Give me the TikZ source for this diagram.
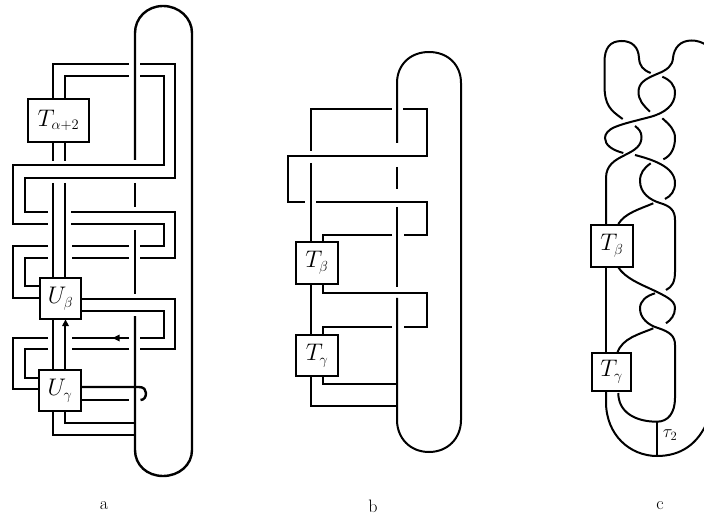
\RequirePackage{fix-cm}
\documentclass[tikz,border=0pt]{standalone}
\DeclareMathSizes{24}{24}{14.5}{11}
\begin{document}
\begin{tikzpicture}[x=1pt,y=-1pt,
  strand/.style={draw=black,line width=2.4pt,line join=miter,line cap=butt},
  thin strand/.style={draw=black,line width=2pt,line join=miter,line cap=butt},
  knot/.style={draw=black,line width=2pt,line cap=butt},
  tbox/.style={draw=black,fill=white,line width=1.5pt,inner sep=0pt,font=\fontsize{24}{26}\selectfont},
  caption/.style={font=\fontsize{18}{20}\selectfont,inner sep=0pt}]
\useasboundingbox (0,0) rectangle (704,521);
\clip (0,0) rectangle (704,521);
% ---------- panel a ----------
\path[strand] (135,160) -- (135,33) .. controls (135,18) and (147,6) .. (163,6)
  .. controls (179,6) and (192,18) .. (192,33) -- (192,450)
  .. controls (192,465) and (179,476) .. (163,476)
  .. controls (147,476) and (135,465) .. (135,450) -- (135,316);
\path[strand] (135,183) -- (135,207);
\path[strand] (135,230) -- (135,294);
% outer strand
\path[strand] (53,100) -- (53,64) -- (129,64);
\path[strand] (140,64) -- (175,64) -- (175,178) -- (25,178) -- (25,212) -- (48,212);
\path[strand] (71,212) -- (175,212) -- (175,258) -- (140,258);
\path[strand] (129,258) -- (72,258);
\path[strand] (48,258) -- (25,258) -- (25,286) -- (41,286);
% inner strand
\path[strand] (65,100) -- (65,76) -- (129,76);
\path[strand] (140,76) -- (164,76) -- (164,165) -- (13,165) -- (13,224) -- (48,224);
\path[strand] (71,224) -- (164,224) -- (164,246) -- (140,246);
\path[strand] (129,246) -- (72,246);
\path[strand] (48,246) -- (13,246) -- (13,298) -- (41,298);
% verticals
\path[strand] (53,141) -- (53,161);
\path[strand] (65,141) -- (65,161);
\path[strand] (53,183) -- (53,279);
\path[strand] (65,183) -- (65,279);
\path[strand] (53,318) -- (53,371);
\path[strand] (65,324) -- (65,371);
\fill (65.5,319.5) -- (62,326) -- (69,326) -- cycle;
% U_beta right
\path[strand] (80,299) -- (175,299) -- (175,349) -- (140,349);
\path[strand] (129,349) -- (72,349);
\path[strand] (48,349) -- (25,349) -- (25,378) -- (40,378);
\path[strand] (80,311) -- (164,311) -- (164,338) -- (140,338);
\path[strand] (129,338) -- (72,338);
\fill (112.5,338) -- (119.5,334.5) -- (119.5,341.5) -- cycle;
\path[strand] (48,338) -- (13,338) -- (13,389) -- (40,389);
% U_gamma right
\path[strand] (80,387) -- (139,387) .. controls (144,387) and (146,390) .. (146,393)
  .. controls (146,397) and (144,400) .. (140.5,400);
\path[strand] (80,400) -- (129,400);
\path[strand] (65,410) -- (65,423) -- (135,423);
\path[strand] (53,410) -- (53,435) -- (135,435);
\node[tbox,minimum width=61pt,minimum height=43pt] (Ta) at (58.5,120.5) {$T_{\alpha+2}$};
\node[tbox,minimum width=41pt,minimum height=41pt] (Ub) at (60.5,298.5) {$U_\beta$};
\node[tbox,minimum width=42pt,minimum height=41pt] (Ug) at (60,390.5) {$U_\gamma$};
\node[caption] (la) at (104,506) {a};
% ---------- panel b ----------
\path[thin strand] (397,143) -- (397,83) .. controls (397,65) and (410,52) .. (429,52)
  .. controls (448,52) and (461,65) .. (461,83) -- (461,420)
  .. controls (461,438) and (448,452) .. (429,452)
  .. controls (410,452) and (397,438) .. (397,420) -- (397,298);
\path[thin strand] (397,167) -- (397,189);
\path[thin strand] (397,207) -- (397,287);
\path[thin strand] (311,151) -- (311,109) -- (392,109);
\path[thin strand] (403,109) -- (427,109) -- (427,156) -- (288,156) -- (288,202) -- (305,202);
\path[thin strand] (316,202) -- (427,202) -- (427,235) -- (404,235);
\path[thin strand] (392,235) -- (323,235) -- (323,243);
\path[thin strand] (311,163) -- (311,243);
\path[thin strand] (311,284) -- (311,336);
\path[thin strand] (323,284) -- (323,293) -- (427,293) -- (427,327) -- (404,327);
\path[thin strand] (392,327) -- (323,327) -- (323,336);
\path[thin strand] (323,375) -- (323,384) -- (397,384);
\path[thin strand] (311,375) -- (311,406) -- (397,406);
\node[tbox,minimum width=42pt,minimum height=42pt] (Tb) at (317,263) {$T_\beta$};
\node[tbox,minimum width=42pt,minimum height=41pt] (Tg) at (317,355.5) {$T_\gamma$};
\node[caption] (lb) at (373,506) {b};
% ---------- panel c ----------
\path[knot] (606,226) -- (606,178) .. controls (606,165) and (615,160) .. (625,155) .. controls (635,150) and (641.5,146) .. (641.5,137) .. controls (641.5,132) and (639,129) .. (635,126);
\path[knot] (622.7,119) .. controls (610,110) and (604.5,105) .. (604.5,85) -- (604.5,62) .. controls (604.5,48) and (610,41) .. (621.7,41) .. controls (632,41) and (638.5,47) .. (639,58) .. controls (639.5,66) and (643,70) .. (650.7,73);
\path[knot] (708,46) .. controls (702,42) and (697,40.5) .. (691.7,40.5) .. controls (680,40.5) and (674,48) .. (673,58) .. controls (672.5,66) and (667,70) .. (657,74) .. controls (645,79) and (638.5,83) .. (638.5,92) .. controls (638.5,100) and (643,105) .. (650,111.7);
\path[knot] (662.3,76.7) .. controls (670,80) and (675,85) .. (675,93) .. controls (675,105) and (665,113) .. (650,117) .. controls (635,121) and (625,123) .. (615,127) .. controls (608,130) and (605,134) .. (605,138) .. controls (605,145) and (612,150) .. (623.3,153);
\path[knot] (662.3,118.3) .. controls (670,125) and (675,130) .. (675,138) .. controls (675,148) and (671,156) .. (663.3,159.3);
\path[knot] (635,155) .. controls (650,159) and (675,166) .. (675,183) .. controls (675,191) and (671,196) .. (665,199);
\path[knot] (650.7,163.3) .. controls (644,168) and (640,173) .. (640,181) .. controls (640,193) and (650,200) .. (660,203) .. controls (670,206) and (675,210) .. (675,220) -- (675,272) .. controls (675,282) and (672,287) .. (666,290);
\path[knot] (653.3,203.3) .. controls (640,209) and (625,213) .. (618.3,224);
\path[knot] (618.3,267.3) .. controls (625,278) and (640,284) .. (653,290) .. controls (665,296) and (675,300) .. (675,308) .. controls (675,315) and (671,320) .. (666,323.3);
\path[knot] (655,293.3) .. controls (646,296) and (640,301) .. (640,308.5) .. controls (640,318) and (648,325) .. (658,328) .. controls (670,332) and (675,336) .. (675,345) -- (675,398) .. controls (675,413) and (668,421.7) .. (657,421.7) .. controls (635,421.7) and (618.3,412) .. (618.3,393);
\path[knot] (653.3,328.3) .. controls (640,334) and (622,338) .. (617.3,353);
\path[knot] (606,392) -- (606,402) .. controls (606,435) and (630,456) .. (657,456) .. controls (680,456) and (698,445) .. (708,420);
\path[knot] (606,267) -- (606,353);
\path[knot] (657,421.7) -- (657,456);
\node[tbox,minimum width=42pt,minimum height=42pt] (Tb2) at (612,246) {$T_\beta$};
\node[tbox,minimum width=39pt,minimum height=38pt] (Tg2) at (611.5,372) {$T_\gamma$};
\node[caption] (lc) at (660,506) {c};
\node[inner sep=0pt,font=\fontsize{18}{20}\selectfont] (tau) at (670,435) {$\tau_2$};
\end{tikzpicture}
\end{document}
